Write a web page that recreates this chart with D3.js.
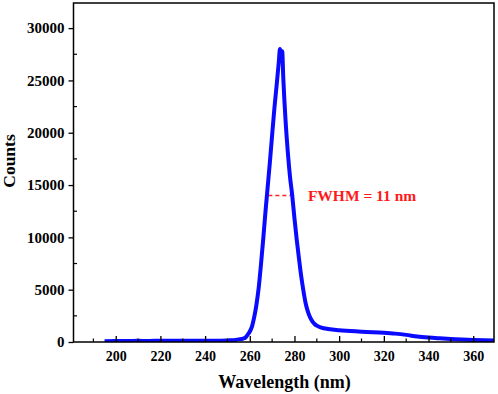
<!DOCTYPE html>
<html>
<head>
<meta charset="utf-8">
<script src="https://cdn.jsdelivr.net/npm/d3@7"></script>
<style>
  body { margin: 0; background: #fff; }
  svg text { font-family: "Liberation Serif", "Times New Roman", serif; font-weight: bold; }
</style>
</head>
<body>
<div id="chart"></div>
<script>
// Spectrum (wavelength in nm, counts)
const wavelength = [195, 200, 205, 210, 215, 220, 225, 230, 235, 240, 245, 250, 253, 255, 257, 258, 259, 260, 261, 262, 263, 264, 265, 266, 267, 268, 269, 270, 271, 272, 273, 273.5, 274, 274.5, 275, 276, 277, 278, 279, 280, 281, 282, 283, 284, 285, 286, 287, 288, 289, 290, 292, 295, 300, 305, 310, 315, 320, 325, 330, 335, 340, 345, 350, 355, 360, 365, 370];
const counts = [80, 100, 90, 110, 100, 120, 110, 120, 110, 130, 120, 150, 180, 250, 330, 420, 680, 1000, 1500, 2400, 3600, 5200, 7400, 9800, 12400, 14800, 17200, 19800, 22300, 24500, 26800, 28000, 27500, 27800, 25200, 21200, 18200, 15800, 14000, 11800, 9800, 8000, 6300, 4900, 3700, 2900, 2350, 1980, 1720, 1560, 1380, 1240, 1120, 1060, 990, 940, 880, 800, 680, 520, 420, 350, 290, 230, 190, 160, 140];

const xTicks = [200, 220, 240, 260, 280, 300, 320, 340, 360];
const xMinor = [190, 210, 230, 250, 270, 290, 310, 330, 350];
const yTicks = [0, 5000, 10000, 15000, 20000, 25000, 30000];
const yMinor = [2500, 7500, 12500, 17500, 22500, 27500];

// FWHM marker
const fwhmLevel = 14000;
const fwhmFrom = 268.3;
const fwhmTo = 278.3;
const fwhmLabel = "FWHM = 11 nm";

const W = 498, H = 394;
const margin = { top: 3, right: 4, bottom: 52, left: 73.5 };
const width = W - margin.left - margin.right,
      height = H - margin.top - margin.bottom;

const svg = d3.select("#chart").append("svg")
    .attr("width", W)
    .attr("height", H);

const g = svg.append("g")
    .attr("transform", `translate(${margin.left},${margin.top})`);

const x = d3.scaleLinear().domain([181.1, 369.3]).range([0, width]);
const y = d3.scaleLinear().domain([0, 32400]).range([height, 0]);

const data = wavelength.map((w, i) => ({ w, c: counts[i] }));

// clip so the thick line stays inside the frame
g.append("clipPath").attr("id", "clip")
  .append("rect").attr("width", width).attr("height", height);

// FWHM dashed line (drawn under the spectrum)
g.append("line")
    .attr("x1", x(fwhmFrom)).attr("x2", x(fwhmTo))
    .attr("y1", y(fwhmLevel)).attr("y2", y(fwhmLevel))
    .attr("stroke", "#ff2020")
    .attr("stroke-width", 1.5)
    .attr("stroke-dasharray", "4,3");

// spectrum
g.append("path")
    .datum(data)
    .attr("clip-path", "url(#clip)")
    .attr("fill", "none")
    .attr("stroke", "#0a0aff")
    .attr("stroke-width", 4)
    .attr("stroke-linejoin", "round")
    .attr("d", d3.line().x(d => x(d.w)).y(d => y(d.c)).curve(d3.curveMonotoneX));

g.append("text")
    .attr("x", x(286))
    .attr("y", y(fwhmLevel) + 5)
    .attr("fill", "#ff1a1a")
    .attr("font-size", "15.5px")
    .text(fwhmLabel);

// X axis (ticks inward)
const xAxis = g.append("g")
    .attr("transform", `translate(0,${height})`)
    .call(d3.axisBottom(x).tickValues(xTicks).tickSize(-6).tickPadding(9).tickFormat(d3.format("d")));
xAxis.select(".domain").remove();
xAxis.selectAll("line").attr("stroke", "#000").attr("stroke-width", 1.3);
xAxis.selectAll("text").attr("font-size", "14px").attr("fill", "#000");

g.append("g")
    .attr("transform", `translate(0,${height})`)
    .selectAll("line")
    .data(xMinor)
    .enter().append("line")
    .attr("x1", d => x(d)).attr("x2", d => x(d))
    .attr("y1", 0).attr("y2", -3.5)
    .attr("stroke", "#000").attr("stroke-width", 1.2);

// Y axis (ticks outward)
const yAxis = g.append("g")
    .call(d3.axisLeft(y).tickValues(yTicks).tickSize(5).tickPadding(4).tickFormat(d3.format("d")));
yAxis.select(".domain").remove();
yAxis.selectAll("line").attr("stroke", "#000").attr("stroke-width", 1.3);
yAxis.selectAll("text").attr("font-size", "15px").attr("fill", "#000");

g.append("g")
    .selectAll("line")
    .data(yMinor)
    .enter().append("line")
    .attr("x1", 0).attr("x2", 3.5)
    .attr("y1", d => y(d)).attr("y2", d => y(d))
    .attr("stroke", "#000").attr("stroke-width", 1.2);

// frame
g.append("rect")
    .attr("width", width)
    .attr("height", height)
    .attr("fill", "none")
    .attr("stroke", "#000")
    .attr("stroke-width", 1.5);

// axis titles
svg.append("text")
    .attr("x", margin.left + x(275.5))
    .attr("y", 388)
    .attr("text-anchor", "middle")
    .attr("font-size", "18px")
    .text("Wavelength (nm)");

svg.append("text")
    .attr("transform", `translate(15,${161}) rotate(-90)`)
    .attr("text-anchor", "middle")
    .attr("font-size", "17.5px")
    .text("Counts");
</script>
</body>
</html>
